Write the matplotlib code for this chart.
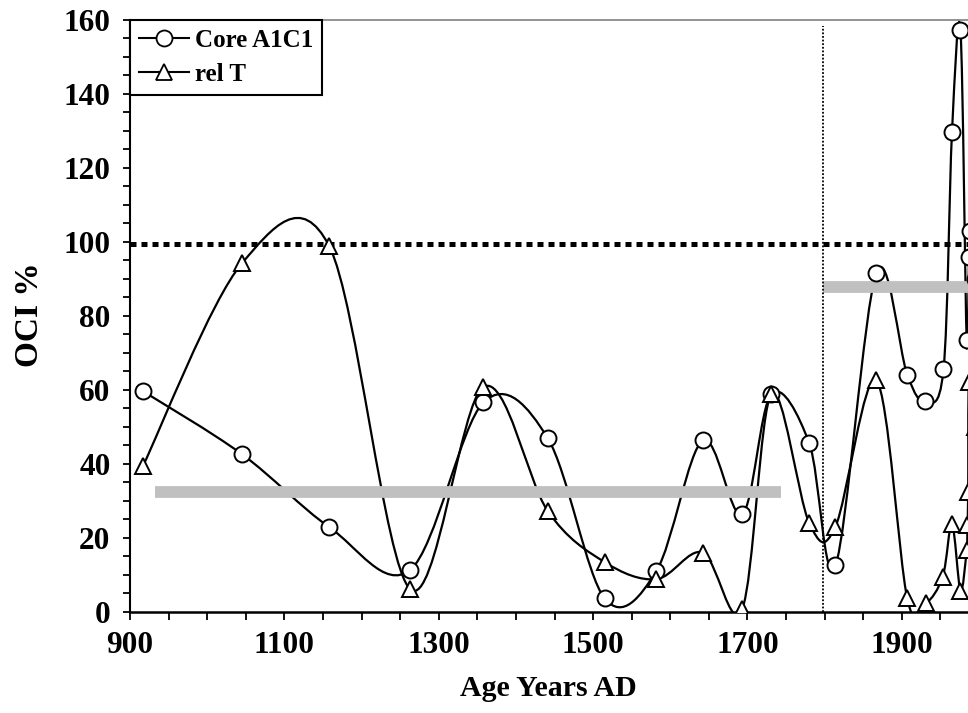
import numpy as np
import matplotlib
matplotlib.use('Agg')
import matplotlib.pyplot as plt
from matplotlib.path import Path
from matplotlib.patches import PathPatch
from matplotlib.lines import Line2D
from matplotlib.ticker import MultipleLocator

plt.rcParams['font.family'] = 'Liberation Serif'
plt.rcParams['font.weight'] = 'bold'

# Core A1C1 (circles)
core_years = [917, 1045, 1158, 1263, 1358, 1441, 1515, 1582, 1642, 1693, 1731, 1780,
              1814, 1867, 1907, 1930, 1954, 1965, 1976, 1984, 1987, 1988, 1995]
core_vals = [59.6, 42.6, 22.9, 11.3, 56.6, 47.0, 3.6, 11.0, 46.3, 26.3, 58.9, 45.6,
             12.5, 91.7, 64.1, 56.9, 65.5, 129.6, 157.2, 73.5, 96.0, 103.0, 90.0]

# rel T (triangles)
relt_years = [917, 1045, 1158, 1263, 1358, 1441, 1515, 1582, 1642, 1693, 1731, 1780,
              1814, 1867, 1907, 1931, 1953, 1965, 1976, 1984, 1985, 1986, 1987, 1995]
relt_vals = [39.5, 94.2, 98.9, 6.1, 60.8, 27.3, 13.4, 8.8, 16.0, 0.6, 58.9, 24.0,
             23.0, 62.6, 3.6, 2.3, 9.5, 23.7, 5.7, 16.7, 23.5, 32.5, 62.0, 50.0]

x_ticks = [900, 1100, 1300, 1500, 1700, 1900]

ref_level = 99.3          # dotted horizontal reference
split_year = 1798         # dotted vertical line
mean_early = (933, 1743, 32.4)
mean_late = (1798, 2100, 87.7)


def smooth_path(x, y):
    # Excel-like smoothed line (Catmull-Rom as cubic Bezier)
    pts = np.column_stack([x, y]).astype(float)
    verts = [pts[0]]
    codes = [Path.MOVETO]
    n = len(pts)
    for i in range(n - 1):
        p0 = pts[i - 1] if i > 0 else pts[i]
        p1, p2 = pts[i], pts[i + 1]
        p3 = pts[i + 2] if i + 2 < n else pts[i + 1]
        verts += [p1 + (p2 - p0) / 6, p2 - (p3 - p1) / 6, p2]
        codes += [Path.CURVE4] * 3
    return Path(verts, codes)


fig = plt.figure(figsize=(9.68, 7.13), dpi=100)
ax = fig.add_axes([130 / 968, 1 - 611.7 / 713, (979 - 130) / 968, (611.7 - 20) / 713])
ax.set_xlim(900, 2000)
ax.set_ylim(0, 160)

for xs, ys in [(core_years, core_vals), (relt_years, relt_vals)]:
    ax.add_patch(PathPatch(smooth_path(xs, ys), fill=False, edgecolor='black',
                           lw=1.6, zorder=2, clip_on=True))

ax.hlines(mean_early[2], mean_early[0], mean_early[1], color='#c0c0c0', lw=8.5,
          zorder=3, capstyle='butt')
ax.hlines(mean_late[2], mean_late[0], mean_late[1], color='#c0c0c0', lw=8.5,
          zorder=3, capstyle='butt')
ax.axhline(ref_level, color='black', lw=3.6, ls=(0, (1.2, 1.0)), zorder=3,
           dash_capstyle='butt')
ax.vlines(split_year, 0, 158.5, color='black', lw=1.3, ls=(0, (1, 1)), zorder=3)

ax.plot(core_years, core_vals, ls='none', marker='o', ms=11.5, mfc='white',
        mec='black', mew=1.4, zorder=4, clip_on=True)
ax.plot(relt_years, relt_vals, ls='none', marker='^', ms=12, mfc='white',
        mec='black', mew=1.4, zorder=4, clip_on=True)

ax.set_xticks(x_ticks)
ax.xaxis.set_minor_locator(MultipleLocator(50))
ax.yaxis.set_major_locator(MultipleLocator(20))
ax.yaxis.set_minor_locator(MultipleLocator(5))
ax.tick_params(which='both', direction='out', length=6, width=1.3, labelsize=22.5)
ax.tick_params(axis='x', which='both', pad=8)
ax.tick_params(axis='y', which='both', length=5, pad=9)

ax.spines['right'].set_visible(False)
ax.spines['top'].set_color('#808080')
ax.spines['top'].set_linewidth(1.2)
ax.spines['left'].set_linewidth(1.5)
ax.spines['bottom'].set_linewidth(1.8)

handles = [
    Line2D([], [], color='black', lw=1.5, marker='o', ms=11.5, mfc='white', mec='black', mew=1.3),
    Line2D([], [], color='black', lw=1.5, marker='^', ms=12, mfc='white', mec='black', mew=1.3),
]
leg = ax.legend(handles, ['Core A1C1', 'rel T'], loc='upper left', bbox_to_anchor=(0, 1),
                borderaxespad=0, fancybox=False, prop={'size': 18, 'weight': 'bold'},
                handlelength=2.0, handletextpad=0.25, labelspacing=0.45, borderpad=0.35,
                framealpha=1)
leg.get_frame().set_edgecolor('black')
leg.get_frame().set_linewidth(1.5)
leg.set_zorder(6)

fig.text(548 / 968, 1 - 688 / 713, 'Age Years AD', ha='center', va='center',
         fontsize=21.5, fontweight='bold')
fig.text(30 / 968, 1 - 315 / 713, 'OCI %', ha='center', va='center', rotation=90,
         fontsize=24, fontweight='bold')

fig.savefig('out.png', dpi=100)
